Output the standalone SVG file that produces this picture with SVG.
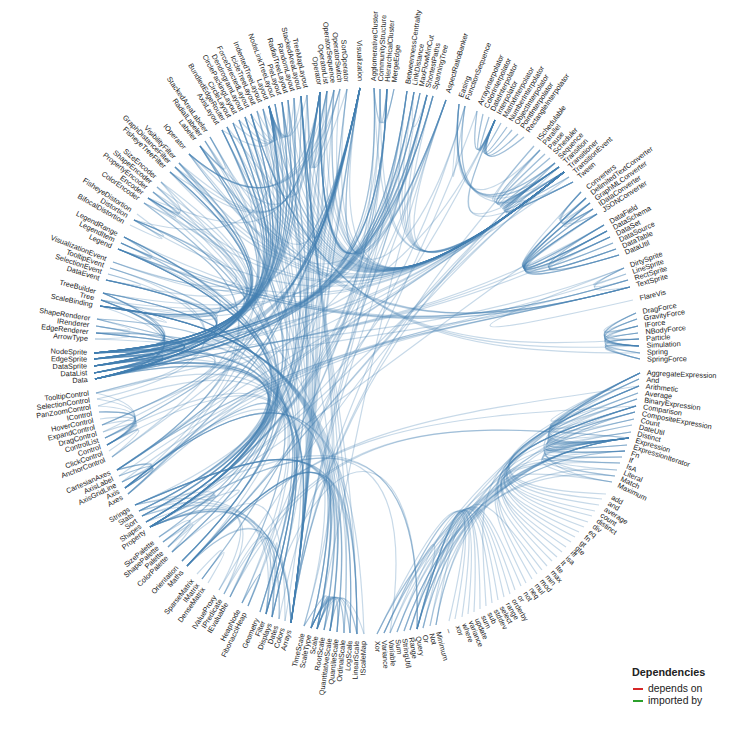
<svg xmlns="http://www.w3.org/2000/svg" width="730" height="730" viewBox="0 0 730 730">
<style>
text{font-family:"Liberation Sans",Arial,sans-serif;font-size:7.3px;fill:#222}
.e{text-anchor:end}
.l path{fill:none;stroke:#4682b4;stroke-opacity:.3;stroke-width:1.2}
</style>
<rect width="730" height="730" fill="#fff"/>
<g transform="translate(367,361)">
<g id="connectors" class="l">
<path d="M7-273C14-79 45-66 197-189"/><path d="M7-273C14-79-50-30-273 12"/><path d="M7-273C14-79-48 64-165 218"/><path d="M7-273Q13-204 27-272"/><path d="M7-273Q13-204 20-272"/><path d="M7-273C14-79-50-30-272 18"/>
<path d="M13-272Q13-204 20-272"/><path d="M13-272C14-79 45-66 197-189"/><path d="M13-272C14-79-50-30-273 12"/><path d="M13-272Q13-204 27-272"/><path d="M13-272C14-79-48 64-165 218"/>
<path d="M20-272C14-79-50-30-273-2"/><path d="M20-272C14-79-50-30-273-8"/><path d="M20-272C14-79-50-30-273 12"/><path d="M20-272C14-79-50-30-266-61"/><path d="M20-272C14-79-48 64-76 262"/><path d="M20-272Q13-204 27-272"/><path d="M20-272C14-79-48 64-225 155"/><path d="M20-272C14-79-50-30-47-269"/><path d="M20-272C14-79-48 64-217 166"/><path d="M20-272C14-79-50-30-272 18"/>
<path d="M40-270C14-79 45-66 197-189"/><path d="M40-270C14-79-50-30-273-8"/><path d="M40-270C14-79-50-30-273 12"/><path d="M40-270C14-79-48 64-76 262"/><path d="M40-270C14-79-50-30-272 18"/><path d="M40-270C14-79-48 64-217 166"/><path d="M40-270C14-79-50-30-47-269"/>
<path d="M47-269C14-79 45-66 197-189"/><path d="M47-269C14-79-50-30-273-8"/><path d="M47-269C14-79-50-30-273-2"/><path d="M47-269Q40-201 60-266"/><path d="M47-269C14-79-50-30-272 18"/><path d="M47-269C14-79-48 64-217 166"/><path d="M47-269C14-79-50-30-47-269"/>
<path d="M53-268C14-79 45-66 197-189"/><path d="M53-268C14-79-50-30-272 18"/><path d="M53-268C14-79-50-30-273-2"/><path d="M53-268C14-79-50-30-273-8"/><path d="M53-268C14-79-50-30-47-269"/>
<path d="M60-266C14-79-50-30-273-2"/><path d="M60-266C14-79-50-30-273-8"/><path d="M60-266C14-79 45-66 197-189"/><path d="M60-266C14-79-50-30-47-269"/><path d="M60-266C14-79-48 64-125 242"/><path d="M60-266C14-79-48 64-119 245"/><path d="M60-266C14-79-48 64-217 166"/><path d="M60-266C14-79-50-30-272 18"/>
<path d="M66-265C14-79 45-66 197-189"/><path d="M66-265C14-79-50-30-273-8"/><path d="M66-265C14-79-50-30-178-207"/><path d="M66-265C14-79-50-30-7-273"/><path d="M66-265C14-79-50-30-264-68"/><path d="M66-265C14-79-50-30-47-269"/>
<path d="M79-261C14-79 45-66 197-189"/><path d="M79-261C14-79-48 64-76 262"/><path d="M79-261C14-79-50-30-273 5"/><path d="M79-261C14-79-10 79-50 268"/><path d="M79-261C14-79-50-30-250 109"/><path d="M79-261C14-79-50-30-7-273"/><path d="M79-261C14-79-48 64-217 166"/><path d="M79-261C14-79-50-30-47-269"/>
<path d="M98-255C45-66-48 64-180 205"/><path d="M98-255Q77-113 192-194"/><path d="M98-255Q77-113 92-257"/><path d="M98-255Q77-113 188-198"/>
<path d="M110-250Q101-178 128-241"/><path d="M116-247Q101-178 128-241"/><path d="M122-244Q101-178 128-241"/><path d="M134-238Q101-178 128-241"/><path d="M140-234Q101-178 128-241"/><path d="M145-231Q101-178 128-241"/><path d="M151-227Q101-178 128-241"/><path d="M157-224Q101-178 128-241"/>
<path d="M128-241Q101-178 110-250"/><path d="M128-241Q101-178 116-247"/><path d="M128-241Q101-178 122-244"/><path d="M128-241Q101-178 134-238"/><path d="M128-241Q101-178 140-234"/><path d="M128-241Q101-178 145-231"/><path d="M128-241Q101-178 151-227"/><path d="M128-241Q101-178 157-224"/>
<path d="M110-250C45-66-48 64-76 262"/><path d="M128-241C45-66-48 64-217 166"/>
<path d="M173-211Q77-113 92-257"/><path d="M173-211Q77-113 192-194"/><path d="M173-211C45-66-48 64-76 262"/><path d="M178-207Q77-113 192-194"/><path d="M183-203Q77-113 167-215"/><path d="M188-198Q77-113 92-257"/><path d="M188-198C45-66-48 64-180 205"/><path d="M188-198Q77-113 192-194"/><path d="M188-198C45-66-48 64-76 262"/>
<path d="M192-194Q77-113 197-189"/><path d="M192-194Q77-113 202-184"/><path d="M192-194Q77-113 183-203"/><path d="M192-194Q77-113 178-207"/><path d="M192-194Q77-113 173-211"/><path d="M192-194Q77-113 92-257"/><path d="M192-194Q77-113 188-198"/><path d="M192-194Q77-113 167-215"/><path d="M192-194C45-66-48 64-180 205"/><path d="M192-194Q77-113 206-179"/>
<path d="M197-189C77-113 89-146 128-241"/><path d="M197-189C45-66-48 64-148 229"/><path d="M197-189Q77-113 92-257"/><path d="M197-189C45-66-48 64-217 166"/><path d="M197-189Q77-113 192-194"/><path d="M197-189Q77-113 206-179"/>
<path d="M202-184Q77-113 192-194"/><path d="M206-179Q77-113 197-189"/><path d="M206-179Q77-113 192-194"/><path d="M206-179C77-113 89-146 128-241"/><path d="M206-179Q77-113 92-257"/>
<path d="M214-169Q167-119 226-152"/><path d="M214-169Q167-119 223-158"/><path d="M214-169Q167-119 230-147"/><path d="M214-169Q167-119 219-163"/>
<path d="M219-163C143-92 119-66 243-124"/><path d="M219-163C143-92 119-66 252-106"/><path d="M219-163C143-92 119-66 249-112"/><path d="M219-163Q167-119 226-152"/><path d="M219-163C143-92 119-66 240-130"/><path d="M219-163C143-92 119-66 237-136"/>
<path d="M223-158C143-92 119-66 243-124"/><path d="M223-158C143-92 119-66 252-106"/><path d="M223-158C143-92 119-66 249-112"/><path d="M223-158C143-92 119-66 240-130"/><path d="M223-158C143-92 119-66 237-136"/><path d="M223-158Q167-119 226-152"/>
<path d="M226-152C143-92 119-66 243-124"/><path d="M226-152C143-92 119-66 240-130"/>
<path d="M230-147Q167-119 226-152"/><path d="M230-147C70-39-48 64-217 166"/><path d="M230-147C143-92 119-66 237-136"/><path d="M230-147C143-92 119-66 240-130"/><path d="M230-147C143-92 119-66 243-124"/><path d="M230-147C143-92 119-66 252-106"/><path d="M230-147C143-92 119-66 249-112"/>
<path d="M237-136Q119-66 252-106"/><path d="M240-130Q119-66 237-136"/><path d="M243-124Q119-66 249-112"/><path d="M246-118C119-66 143-92 226-152"/><path d="M246-118C119-66 143-92 214-169"/><path d="M246-118Q119-66 240-130"/><path d="M249-112Q119-66 240-130"/><path d="M252-106Q119-66 237-136"/><path d="M252-106Q119-66 240-130"/>
<path d="M259-87Q195-63 257-93"/><path d="M261-81Q195-63 257-93"/><path d="M263-74Q195-63 257-93"/><path d="M266-61C78-18 76-25 257-93"/>
<path d="M269-48Q204-19 272-15"/><path d="M269-48Q204-19 272-22"/><path d="M269-48Q204-19 271-35"/><path d="M270-42Q204-19 272-15"/><path d="M270-42Q204-19 272-22"/><path d="M270-42Q204-19 271-35"/><path d="M271-35Q204-19 272-15"/><path d="M271-28Q204-19 272-15"/><path d="M271-28Q204-19 272-22"/><path d="M271-28Q204-19 271-35"/>
<path d="M272-15Q204-19 269-48"/><path d="M272-15Q204-19 271-35"/><path d="M272-15Q204-19 273-2"/><path d="M272-15Q204-19 271-28"/><path d="M272-15Q204-19 272-22"/><path d="M272-15Q204-19 273-8"/><path d="M272-15Q204-19 270-42"/><path d="M273-8Q204-19 272-22"/><path d="M273-2Q204-19 272-15"/><path d="M273-2Q204-19 272-22"/><path d="M273-2Q204-19 273-8"/><path d="M273-2Q204-19 271-35"/>
<path d="M273 12Q96 97 262 77"/><path d="M272 18Q96 97 268 51"/><path d="M272 18Q96 97 262 77"/><path d="M272 25Q96 97 270 38"/><path d="M272 25Q96 97 262 77"/><path d="M272 25C56 57-48 64-180 205"/><path d="M271 32Q96 97 262 77"/><path d="M271 32Q96 97 273 12"/><path d="M270 38Q96 97 262 77"/><path d="M269 45Q96 97 270 38"/><path d="M269 45Q96 97 262 77"/><path d="M269 45C56 57-48 64-180 205"/>
<path d="M268 51Q96 97 262 77"/><path d="M268 51Q96 97 260 84"/><path d="M267 58Q96 97 262 77"/><path d="M267 58Q96 97 273 12"/><path d="M265 64Q96 97 258 90"/><path d="M264 71Q96 97 262 77"/><path d="M264 71Q96 97 273 12"/><path d="M262 77Q96 97 260 84"/><path d="M262 77C56 57-48 64-137 236"/><path d="M262 77C56 57-48 64-143 233"/><path d="M260 84Q96 97 262 77"/>
<path d="M258 90Q96 97 268 51"/><path d="M258 90Q96 97 262 77"/><path d="M258 90Q96 97 265 64"/><path d="M258 90Q96 97 37 270"/><path d="M255 96Q96 97 262 77"/><path d="M253 102Q96 97 262 77"/><path d="M253 102Q96 97 255 96"/><path d="M250 109Q96 97 262 77"/><path d="M248 115Q96 97 270 38"/><path d="M248 115Q96 97 262 77"/><path d="M248 115Q96 97 37 270"/><path d="M245 121Q96 97 262 77"/><path d="M245 121Q96 97 273 12"/>
<path d="M69 264Q96 97 262 77"/><path d="M69 264Q96 97 273 12"/><path d="M63 265Q96 97 262 77"/><path d="M56 267Q96 97 268 51"/><path d="M56 267Q96 97 262 77"/><path d="M50 268Q96 97 262 77"/><path d="M50 268Q96 97 250 109"/><path d="M50 268Q96 97 23 272"/><path d="M50 268Q96 97 273 12"/><path d="M50 268C56 57-48 64-101 253"/><path d="M50 268C56 57-48 64-217 166"/><path d="M50 268C56 57-48 64-225 155"/>
<path d="M43 269Q96 97 272 18"/><path d="M43 269Q96 97 269 45"/><path d="M43 269Q96 97 262 77"/><path d="M37 270Q96 97 258 90"/><path d="M30 271Q96 97 262 77"/><path d="M30 271Q96 97 273 12"/><path d="M23 272Q96 97 262 77"/><path d="M23 272C56 57-48 64-217 166"/><path d="M17 272Q96 97 262 77"/><path d="M17 272Q96 97 273 12"/><path d="M10 273Q96 97 268 51"/><path d="M10 273Q96 97 262 77"/>
<path d="M239 133C113 128 96 97 272 25"/><path d="M235 138C113 128 96 97 272 18"/><path d="M232 144C113 128 96 97 271 32"/><path d="M228 150C113 128 96 97 267 58"/><path d="M225 155C113 128 96 97 264 71"/><path d="M221 161C113 128 96 97 272 25"/><path d="M217 166C113 128 96 97 269 45"/><path d="M212 171C113 128 96 97 258 90"/><path d="M208 176C113 128 96 97 269 45"/><path d="M204 181C113 128 96 97 269 45"/><path d="M199 186C113 128 96 97 255 96"/>
<path d="M195 191C113 128 96 97 253 102"/><path d="M190 196C113 128 96 97 269 45"/><path d="M185 200C113 128 96 97 269 45"/><path d="M180 205C113 128 96 97 245 121"/><path d="M175 209C113 128 96 97 69 264"/><path d="M170 213C113 128 96 97 272 25"/><path d="M165 218C113 128 96 97 272 25"/><path d="M159 222C113 128 96 97 269 45"/><path d="M154 225C113 128 96 97 63 265"/><path d="M148 229C113 128 96 97 56 267"/><path d="M143 233C113 128 96 97 50 268"/>
<path d="M137 236C113 128 96 97 43 269"/><path d="M131 239C113 128 96 97 50 268"/><path d="M125 242C113 128 96 97 17 272"/><path d="M119 245C113 128 96 97 272 25"/><path d="M113 248C113 128 96 97 30 271"/><path d="M107 251C113 128 96 97 50 268"/><path d="M101 253C113 128 96 97 17 272"/><path d="M95 256C113 128 96 97 50 268"/><path d="M88 258C113 128 96 97 10 273"/><path d="M82 260C113 128 96 97 50 268"/>
<path d="M-3 273Q-25 203-50 268"/><path d="M-10 273Q-25 203-37 270"/><path d="M-10 273C-10 79-48 64-180 205"/><path d="M-10 273C-10 79-48 64-232 144"/><path d="M-10 273Q-25 203-56 267"/><path d="M-17 272Q-25 203-37 270"/><path d="M-17 272C-10 79-48 64-180 205"/><path d="M-17 272C-10 79-48 64-232 144"/><path d="M-17 272Q-25 203-56 267"/><path d="M-23 272Q-25 203-56 267"/><path d="M-23 272Q-25 203-50 268"/>
<path d="M-30 271C-10 79-48 64-180 205"/><path d="M-30 271C-10 79-48 64-232 144"/><path d="M-30 271Q-25 203-50 268"/><path d="M-30 271Q-25 203-56 267"/><path d="M-37 270C-10 79-48 64-180 205"/><path d="M-37 270C-10 79-48 64-232 144"/><path d="M-37 270Q-25 203-50 268"/><path d="M-37 270Q-25 203-56 267"/><path d="M-43 269Q-25 203-37 270"/><path d="M-43 269C-10 79-48 64-180 205"/><path d="M-43 269C-10 79-48 64-232 144"/><path d="M-43 269Q-25 203-56 267"/>
<path d="M-50 268Q-25 203-56 267"/><path d="M-50 268C-10 79-48 64-232 144"/><path d="M-56 267Q-25 203-50 268"/><path d="M-63 265C-10 79-48 64-88 258"/><path d="M-63 265Q-25 203-50 268"/><path d="M-63 265Q-25 203-56 267"/>
<path d="M-76 262Q-82 109-217 166"/><path d="M-88 258Q-82 109-180 205"/><path d="M-95 256Q-82 109-137 236"/><path d="M-95 256Q-82 109-217 166"/><path d="M-95 256Q-82 109-101 253"/><path d="M-101 253Q-82 109-143 233"/><path d="M-101 253Q-82 109-217 166"/><path d="M-119 245Q-92 183-125 242"/><path d="M-125 242Q-92 183-119 245"/><path d="M-159 222Q-124 163-165 218"/><path d="M-170 213Q-124 163-165 218"/><path d="M-180 205Q-82 109-76 262"/>
<path d="M-195 191Q-151 138-199 186"/><path d="M-195 191C-117 124-82 109-82 260"/><path d="M-204 181Q-151 138-199 186"/><path d="M-204 181C-117 124-82 109-221 161"/><path d="M-208 176Q-151 138-199 186"/><path d="M-217 166Q-82 109-143 233"/><path d="M-217 166Q-82 109-148 229"/><path d="M-225 155Q-82 109-76 262"/><path d="M-225 155Q-82 109-217 166"/><path d="M-228 150Q-82 109-76 262"/><path d="M-228 150Q-82 109-217 166"/><path d="M-232 144Q-82 109-88 258"/><path d="M-232 144Q-82 109-217 166"/>
<path d="M-239 133C-50-30 45-66 197-189"/><path d="M-239 133C-121 28-58-35-7-273"/>
<path d="M-242 127C-50-30 45-66 197-189"/><path d="M-242 127C-50-30-10 79-10 273"/><path d="M-242 127C-50-30-48 64-76 262"/><path d="M-242 127C-50-30-10 79-56 267"/><path d="M-242 127C-50-30-48 64-232 144"/><path d="M-242 127C-50-30 76-25 263-74"/><path d="M-242 127C-50-30-10 79-50 268"/><path d="M-242 127C-50-30-48 64-228 150"/><path d="M-242 127C-50-30-10 79-3 273"/><path d="M-242 127Q-184 91-248 115"/><path d="M-242 127Q-184 91-245 121"/>
<path d="M-245 121Q-184 91-242 127"/><path d="M-245 121C-50-30 76-25 259-87"/><path d="M-248 115Q-184 91-242 127"/><path d="M-248 115C-50-30 76-25 263-74"/>
<path d="M-250 109C-50-30 45-66 197-189"/><path d="M-250 109C-50-30 76-25 261-81"/><path d="M-250 109Q-184 91-242 127"/><path d="M-250 109C-50-30 76-25 263-74"/><path d="M-250 109Q-184 91-239 133"/><path d="M-250 109C-121 28-58-35-7-273"/><path d="M-250 109Q-184 91-245 121"/>
<path d="M-255 96Q-199 49-260 84"/><path d="M-255 96C-129 7-58-35-7-273"/><path d="M-255 96C-129 7-65-76-98-255"/><path d="M-258 90Q-199 49-260 84"/><path d="M-260 84Q-199 49-268 51"/><path d="M-260 84C-50-30-48 64-101 253"/>
<path d="M-262 77Q-199 49-268 51"/><path d="M-262 77C-50-30-48 64-76 262"/><path d="M-262 77C-129 7-58-35-7-273"/><path d="M-262 77Q-199 49-260 84"/><path d="M-264 71Q-199 49-260 84"/><path d="M-264 71C-129 7-97-24-273 5"/>
<path d="M-265 64Q-199 49-260 84"/><path d="M-265 64C-129 7-97-24-273-8"/><path d="M-265 64C-50-30 45-66 197-189"/><path d="M-265 64C-129 7-58-35-7-273"/><path d="M-267 58Q-199 49-260 84"/><path d="M-268 51Q-199 49-260 84"/><path d="M-269 45Q-199 49-260 84"/><path d="M-269 45C-50-30-48 64-95 256"/>
<path d="M-270 38Q-199 49-260 84"/><path d="M-270 38C-129 7-126-52-259-87"/><path d="M-271 32Q-199 49-260 84"/><path d="M-271 32C-129 7-126-52-257-93"/><path d="M-271 32C-50-30 76-25 263-74"/><path d="M-271 32C-50-30-48 64-95 256"/>
<path d="M-272 18Q-136-13-273 12"/><path d="M-272 18Q-136-13-273 5"/><path d="M-272 18Q-136-13-273-2"/><path d="M-272 18Q-136-13-273-8"/><path d="M-272 18C-50-30-48 64-76 262"/><path d="M-272 18C-50-30 70-39 243-124"/><path d="M-272 18Q-136-13-264-68"/><path d="M-272 18C-97-24-126-52-261-81"/><path d="M-272 18C-50-30 70-39 240-130"/><path d="M-272 18Q-136-13-266-61"/><path d="M-272 18C-50-30 70-39 237-136"/><path d="M-272 18C-50-30-48 64-225 155"/><path d="M-272 18C-50-30-48 64-217 166"/>
<path d="M-273 12C-50-30 45-66 128-241"/><path d="M-273 12C-50-30-48 64-76 262"/><path d="M-273 12C-50-30-48 64-101 253"/><path d="M-273 12C-50-30-48 64-225 155"/><path d="M-273 12C-97-24-126-52-261-81"/><path d="M-273 12Q-136-13-273 5"/><path d="M-273 12C-50-30-48 64-228 150"/><path d="M-273 12C-50-30-48 64-217 166"/><path d="M-273 12C-50-30 45-66 197-189"/>
<path d="M-273 5C-50-30-48 64-82 260"/><path d="M-273 5Q-136-13-272 18"/><path d="M-273 5C-50-30 76-25 257-93"/><path d="M-273 5C-136-13-170-18-270-42"/><path d="M-273 5C-136-13-170-18-271-35"/>
<path d="M-273-2C-136-13-170-18-271-28"/><path d="M-273-2Q-136-13-273 5"/><path d="M-273-2Q-136-13-273-8"/><path d="M-273-2C-136-13-170-18-272-22"/><path d="M-273-2Q-136-13-272 18"/>
<path d="M-273-8C-50-30 45-66 197-189"/><path d="M-273-8C-50-30-48 64-76 262"/><path d="M-273-8Q-136-13-273 5"/><path d="M-273-8Q-136-13-273-2"/><path d="M-273-8Q-136-13-266-61"/><path d="M-273-8C-50-30-48 64-225 155"/><path d="M-273-8C-50-30-48 64-101 253"/><path d="M-273-8C-50-30-48 64-137 236"/><path d="M-273-8Q-136-13-272 18"/>
<path d="M-271-28C-170-18-136-13-273-2"/><path d="M-271-28C-170-18-136-13-273 5"/><path d="M-271-28Q-203-24-271-35"/><path d="M-271-28C-170-18-136-13-273-8"/><path d="M-271-28C-50-30-48 64-221 161"/><path d="M-271-28C-50-30-48 64-107 251"/><path d="M-271-28Q-203-24-272-22"/>
<path d="M-271-35C-170-18-136-13-273 5"/><path d="M-270-42C-170-18-136-13-273 5"/><path d="M-270-42Q-203-24-271-35"/><path d="M-270-42C-50-30-48 64-221 161"/><path d="M-270-42C-50-30-48 64-107 251"/>
<path d="M-267-55C-50-30-10 79-63 265"/><path d="M-267-55C-50-30-10 79-56 267"/><path d="M-267-55C-50-30-10 79-10 273"/><path d="M-267-55C-50-30-10 79-17 272"/><path d="M-267-55C-50-30-10 79-23 272"/><path d="M-267-55C-50-30-10 79-43 269"/><path d="M-267-55C-50-30-10 79-50 268"/><path d="M-267-55C-50-30-10 79-30 271"/><path d="M-267-55C-50-30-48 64-228 150"/><path d="M-267-55C-50-30-10 79-37 270"/><path d="M-267-55C-97-24-126-52-261-81"/><path d="M-267-55Q-136-13-272 18"/>
<path d="M-266-61Q-136-13-273-2"/><path d="M-266-61Q-136-13-273-8"/><path d="M-266-61Q-136-13-273 12"/><path d="M-266-61Q-136-13-272 18"/>
<path d="M-264-68C-50-30-48 64-137 236"/><path d="M-264-68Q-136-13-273-8"/><path d="M-264-68Q-136-13-266-61"/><path d="M-264-68Q-136-13-273-2"/><path d="M-264-68Q-136-13-272 18"/><path d="M-264-68C-50-30-48 64-125 242"/><path d="M-264-68C-50-30-48 64-119 245"/><path d="M-264-68C-50-30-48 64-217 166"/>
<path d="M-261-81C-126-52-97-24-273-2"/><path d="M-261-81C-126-52-97-24-273-8"/><path d="M-261-81C-126-52-97-24-273 12"/><path d="M-261-81C-126-52-97-24-273 5"/><path d="M-259-87Q-193-68-261-81"/><path d="M-257-93C-126-52-97-24-273-2"/><path d="M-257-93C-126-52-97-24-273-8"/><path d="M-254-99C-50-30 45-66 197-189"/>
<path d="M-249-112C-50-30 45-66 197-189"/><path d="M-249-112C-122-62-97-24-267-55"/><path d="M-249-112C-50-30 76-25 263-74"/><path d="M-249-112Q-185-89-246-118"/><path d="M-249-112Q-185-89-243-124"/><path d="M-249-112C-50-30-48 64-95 256"/><path d="M-249-112C-50-30 76-25 261-81"/><path d="M-249-112C-50-30-48 64-185 200"/><path d="M-249-112C-50-30-48 64-195 191"/><path d="M-249-112C-50-30-48 64-204 181"/><path d="M-249-112C-50-30-48 64-208 176"/><path d="M-249-112C-50-30-48 64-221 161"/>
<path d="M-246-118C-50-30 76-25 263-74"/><path d="M-246-118C-50-30 76-25 261-81"/><path d="M-246-118C-50-30-48 64-221 161"/><path d="M-246-118C-50-30-48 64-95 256"/>
<path d="M-243-124C-50-30-48 64-195 191"/><path d="M-243-124C-50-30 76-25 261-81"/><path d="M-243-124C-122-62-97-24-267-55"/><path d="M-243-124C-50-30-48 64-228 150"/><path d="M-243-124C-50-30-10 79-50 268"/><path d="M-243-124Q-185-89-246-118"/><path d="M-243-124C-50-30-48 64-185 200"/>
<path d="M-237-136Q-175-106-233-141"/><path d="M-230-147Q-175-106-233-141"/><path d="M-233-141C-50-30 45-66 197-189"/><path d="M-233-141C-65-76-97-24-273 5"/><path d="M-233-141C-65-76-126-52-254-99"/><path d="M-233-141C-65-76-121 28-242 127"/><path d="M-233-141C-65-76-121 28-250 109"/><path d="M-233-141C-123-111-75-153-98-255"/><path d="M-233-141C-65-76-97-24-272 18"/>
<path d="M-223-158C-50-30-48 64-195 191"/><path d="M-223-158C-50-30-48 64-199 186"/><path d="M-223-158Q-161-127-219-163"/><path d="M-223-158C-65-76-97-24-267-55"/>
<path d="M-219-163C-50-30 45-66 197-189"/><path d="M-219-163C-65-76-97-24-267-55"/><path d="M-219-163C-50-30-48 64-217 166"/><path d="M-219-163C-116-122-71-116-47-269"/><path d="M-219-163C-65-76-97-24-272 18"/>
<path d="M-214-169Q-161-127-219-163"/><path d="M-214-169C-65-76-97-24-272 18"/><path d="M-214-169C-50-30 45-66 197-189"/><path d="M-214-169C-50-30-48 64-101 253"/>
<path d="M-210-174Q-161-127-219-163"/><path d="M-210-174C-50-30-48 64-204 181"/><path d="M-210-174C-65-76-97-24-267-55"/><path d="M-206-179Q-161-127-219-163"/><path d="M-206-179C-50-30-48 64-208 176"/><path d="M-206-179C-65-76-97-24-267-55"/>
<path d="M-197-189C-50-30 45-66 197-189"/><path d="M-197-189C-65-76-97-24-273-8"/><path d="M-197-189C-65-76-97-24-273-2"/><path d="M-197-189C-65-76-97-24-272 18"/><path d="M-197-189C-108-131-71-116-47-269"/><path d="M-197-189C-65-76-97-24-273 5"/>
<path d="M-192-194C-50-30 45-66 197-189"/><path d="M-192-194C-65-76-97-24-273-8"/><path d="M-192-194C-108-131-71-116-47-269"/><path d="M-192-194C-65-76-97-24-273 5"/><path d="M-192-194C-65-76-97-24-273-2"/><path d="M-192-194C-65-76-97-24-272 18"/>
<path d="M-188-198C-108-131-71-116-47-269"/><path d="M-188-198C-50-30 45-66 197-189"/><path d="M-188-198C-65-76-97-24-273 5"/><path d="M-188-198C-50-30-48 64-101 253"/><path d="M-188-198C-65-76-97-24-272 18"/>
<path d="M-178-207C-50-30 45-66 197-189"/><path d="M-178-207C-71-116-58-35-7-273"/>
<path d="M-167-215C-50-30 76-25 263-74"/><path d="M-167-215C-50-30 45-66 197-189"/><path d="M-167-215C-65-76-97-24-273 5"/><path d="M-167-215C-50-30-48 64-101 253"/><path d="M-167-215C-50-30-48 64-217 166"/><path d="M-167-215C-50-30-48 64-221 161"/><path d="M-167-215C-96-141-71-116-47-269"/><path d="M-167-215C-65-76-97-24-272 18"/>
<path d="M-162-220Q-122-165-167-215"/><path d="M-162-220C-65-76-97-24-273 5"/><path d="M-162-220C-50-30 76-25 263-74"/><path d="M-162-220C-50-30-48 64-221 161"/>
<path d="M-157-224Q-122-165-167-215"/><path d="M-157-224C-65-76-97-24-273 5"/><path d="M-157-224C-50-30 76-25 263-74"/><path d="M-157-224C-50-30-48 64-76 262"/>
<path d="M-145-231C-50-30 45-66 197-189"/><path d="M-145-231C-65-76-97-24-273 5"/><path d="M-145-231C-65-76-121 28-250 109"/><path d="M-145-231Q-78-189-98-255"/><path d="M-145-231C-50-30-10 79-56 267"/><path d="M-145-231C-50-30-48 64-217 166"/><path d="M-145-231C-65-76-97-24-272 18"/>
<path d="M-140-234C-50-30 45-66 197-189"/><path d="M-140-234C-65-76-97-24-273 5"/><path d="M-140-234C-50-30-48 64-76 262"/><path d="M-140-234C-50-30-48 64-221 161"/><path d="M-140-234C-75-153-71-116-47-269"/><path d="M-140-234C-65-76-97-24-273-2"/><path d="M-140-234C-65-76-97-24-273-8"/>
<path d="M-134-238C-65-76-97-24-273-8"/><path d="M-134-238C-65-76-97-24-267-55"/><path d="M-134-238C-65-76-97-24-266-61"/><path d="M-134-238Q-78-189-98-255"/><path d="M-134-238C-65-76-97-24-272 18"/><path d="M-134-238C-50-30 45-66 197-189"/>
<path d="M-128-241C-65-76-97-24-273-8"/><path d="M-128-241C-50-30-48 64-221 161"/><path d="M-128-241Q-78-189-98-255"/><path d="M-128-241C-50-30 45-66 197-189"/><path d="M-128-241C-65-76-97-24-272 18"/><path d="M-128-241C-65-76-97-24-273 12"/>
<path d="M-122-244C-65-76-97-24-273-8"/><path d="M-122-244C-65-76-97-24-273 12"/><path d="M-122-244Q-78-189-98-255"/><path d="M-122-244C-65-76-97-24-273-2"/><path d="M-122-244C-50-30-48 64-76 262"/><path d="M-122-244C-50-30-48 64-185 200"/><path d="M-122-244C-50-30 45-66 197-189"/>
<path d="M-116-247C-50-30 80-7 272-15"/><path d="M-116-247C-50-30 80-7 272-22"/><path d="M-116-247C-50-30 80-7 273-8"/><path d="M-116-247C-65-76-97-24-273-8"/><path d="M-116-247C-65-76-97-24-273-2"/><path d="M-116-247C-65-76-97-24-273 5"/><path d="M-116-247Q-78-189-98-255"/><path d="M-116-247C-50-30 45-66 197-189"/><path d="M-116-247C-65-76-97-24-272 18"/>
<path d="M-110-250C-65-76-97-24-273-8"/><path d="M-110-250Q-78-189-98-255"/><path d="M-110-250C-50-30-48 64-185 200"/><path d="M-110-250C-50-30 45-66 197-189"/>
<path d="M-104-252C-65-76-97-24-273-8"/><path d="M-104-252Q-78-189-98-255"/><path d="M-104-252C-50-30-48 64-76 262"/><path d="M-104-252C-65-76-97-24-273-2"/><path d="M-104-252C-50-30 45-66 197-189"/>
<path d="M-98-255C-50-30 45-66 197-189"/><path d="M-98-255C-65-76-97-24-273-8"/><path d="M-98-255C-65-76-97-24-273 12"/><path d="M-98-255C-65-76-97-24-273 5"/><path d="M-98-255C-65-76-97-24-273-2"/><path d="M-98-255C-65-76-58-35-7-273"/><path d="M-98-255C-65-76-121 28-250 109"/><path d="M-98-255C-65-76-121 28-239 133"/><path d="M-98-255C-50-30 45-66 202-184"/><path d="M-98-255C-75-153-71-116-47-269"/>
<path d="M-92-257C-65-76-97-24-273-8"/><path d="M-92-257Q-78-189-98-255"/><path d="M-92-257C-50-30-48 64-185 200"/><path d="M-92-257C-50-30-48 64-76 262"/><path d="M-92-257C-50-30 45-66 197-189"/><path d="M-92-257C-65-76-97-24-273-2"/>
<path d="M-85-259C-65-76-97-24-273 12"/><path d="M-85-259C-65-76-97-24-273 5"/><path d="M-85-259C-50-30-48 64-221 161"/><path d="M-85-259C-50-30-48 64-107 251"/><path d="M-85-259Q-78-189-98-255"/><path d="M-85-259C-50-30 45-66 197-189"/><path d="M-85-259C-65-76-97-24-272 18"/><path d="M-85-259C-50-30-48 64-217 166"/>
<path d="M-79-261C-65-76-97-24-273-8"/><path d="M-79-261C-50-30-48 64-76 262"/><path d="M-79-261Q-78-189-98-255"/><path d="M-79-261C-50-30-48 64-107 251"/><path d="M-79-261C-50-30 45-66 197-189"/><path d="M-79-261C-65-76-97-24-273-2"/>
<path d="M-73-263C-65-76-97-24-273-8"/><path d="M-73-263Q-78-189-98-255"/><path d="M-73-263C-65-76-97-24-273 5"/><path d="M-73-263C-65-76-97-24-272 18"/><path d="M-73-263C-50-30 45-66 197-189"/>
<path d="M-66-265C-50-30-10 79-56 267"/><path d="M-66-265C-50-30-10 79-10 273"/><path d="M-66-265C-50-30-10 79-50 268"/><path d="M-66-265C-50-30-48 64-76 262"/><path d="M-66-265C-50-30-48 64-180 205"/><path d="M-66-265C-50-30-48 64-185 200"/><path d="M-66-265C-50-30-10 79-37 270"/><path d="M-66-265C-50-30-10 79-23 272"/><path d="M-66-265Q-78-189-98-255"/><path d="M-66-265C-50-30 45-66 197-189"/><path d="M-66-265C-50-30-48 64-228 150"/><path d="M-66-265C-65-76-97-24-273-8"/><path d="M-66-265C-65-76-97-24-272 18"/>
<path d="M-60-266C-65-76-97-24-273-8"/><path d="M-60-266Q-78-189-98-255"/><path d="M-60-266C-50-30 45-66 197-189"/><path d="M-60-266C-50-30-48 64-217 166"/><path d="M-60-266C-50-30-48 64-76 262"/>
<path d="M-47-269C-50-30 45-66 197-189"/><path d="M-47-269C-71-116-58-35-7-273"/><path d="M-47-269Q-71-116-178-207"/><path d="M-47-269C-50-30-48 64-76 262"/><path d="M-47-269C-50-30-48 64-217 166"/>
<path d="M-40-270C-50-30-48 64-76 262"/><path d="M-40-270C-50-30 45-66 197-189"/><path d="M-40-270C-71-116-58-35-7-273"/><path d="M-40-270Q-71-116-178-207"/><path d="M-40-270Q-71-116-47-269"/><path d="M-40-270C-50-30-48 64-217 166"/>
<path d="M-33-271C-50-30-48 64-76 262"/><path d="M-33-271Q-71-116-178-207"/><path d="M-33-271C-50-30 45-66 197-189"/><path d="M-33-271C-50-30 45-66 98-255"/><path d="M-33-271Q-71-116-47-269"/><path d="M-33-271C-71-116-58-35-7-273"/>
<path d="M-27-272Q-71-116-47-269"/><path d="M-27-272Q-71-116-40-270"/><path d="M-27-272Q-71-116-178-207"/><path d="M-27-272C-50-30 45-66 197-189"/>
<path d="M-20-272Q-71-116-47-269"/><path d="M-20-272C-50-30-48 64-76 262"/><path d="M-20-272C-50-30-48 64-225 155"/><path d="M-20-272C-50-30 45-66 197-189"/>
<path d="M-7-273C-50-30 45-66 197-189"/><path d="M-7-273C-58-35-121 28-239 133"/><path d="M-7-273C-58-35-121 28-250 109"/><path d="M-7-273C-58-35-129 7-262 77"/><path d="M-7-273C-58-35-97-24-272 18"/><path d="M-7-273C-58-35-97-24-273 5"/><path d="M-7-273C-58-35-97-24-273-2"/><path d="M-7-273C-58-35-97-24-273-8"/><path d="M-7-273C-58-35-126-52-261-81"/><path d="M-7-273C-58-35-126-52-254-99"/><path d="M-7-273C-58-35-97-24-266-61"/><path d="M-7-273C-58-35-65-76-40-270"/><path d="M-7-273C-58-35-65-76-178-207"/><path d="M-7-273C-50-30-48 64-95 256"/><path d="M-7-273C-50-30-48 64-217 166"/><path d="M-7-273C-58-35-97-24-273 12"/><path d="M-7-273C-50-30-48 64-76 262"/>
</g>
<g id="nodes">
<g id="n-AgglomerativeCluster" transform="rotate(-88.6)translate(280,2.26)"><text>AgglomerativeCluster</text></g>
<g id="n-CommunityStructure" transform="rotate(-87.2)translate(280,2.26)"><text>CommunityStructure</text></g>
<g id="n-HierarchicalCluster" transform="rotate(-85.8)translate(280,2.26)"><text>HierarchicalCluster</text></g>
<g id="n-MergeEdge" transform="rotate(-84.4)translate(280,2.26)"><text>MergeEdge</text></g>
<g id="n-BetweennessCentrality" transform="rotate(-81.6)translate(280,2.26)"><text>BetweennessCentrality</text></g>
<g id="n-LinkDistance" transform="rotate(-80.2)translate(280,2.26)"><text>LinkDistance</text></g>
<g id="n-MaxFlowMinCut" transform="rotate(-78.79)translate(280,2.26)"><text>MaxFlowMinCut</text></g>
<g id="n-ShortestPaths" transform="rotate(-77.39)translate(280,2.26)"><text>ShortestPaths</text></g>
<g id="n-SpanningTree" transform="rotate(-75.99)translate(280,2.26)"><text>SpanningTree</text></g>
<g id="n-AspectRatioBanker" transform="rotate(-73.19)translate(280,2.26)"><text>AspectRatioBanker</text></g>
<g id="n-Easing" transform="rotate(-70.39)translate(280,2.26)"><text>Easing</text></g>
<g id="n-FunctionSequence" transform="rotate(-68.99)translate(280,2.26)"><text>FunctionSequence</text></g>
<g id="n-ArrayInterpolator" transform="rotate(-66.19)translate(280,2.26)"><text>ArrayInterpolator</text></g>
<g id="n-ColorInterpolator" transform="rotate(-64.79)translate(280,2.26)"><text>ColorInterpolator</text></g>
<g id="n-DateInterpolator" transform="rotate(-63.39)translate(280,2.26)"><text>DateInterpolator</text></g>
<g id="n-Interpolator" transform="rotate(-61.98)translate(280,2.26)"><text>Interpolator</text></g>
<g id="n-MatrixInterpolator" transform="rotate(-60.58)translate(280,2.26)"><text>MatrixInterpolator</text></g>
<g id="n-NumberInterpolator" transform="rotate(-59.18)translate(280,2.26)"><text>NumberInterpolator</text></g>
<g id="n-ObjectInterpolator" transform="rotate(-57.78)translate(280,2.26)"><text>ObjectInterpolator</text></g>
<g id="n-PointInterpolator" transform="rotate(-56.38)translate(280,2.26)"><text>PointInterpolator</text></g>
<g id="n-RectangleInterpolator" transform="rotate(-54.98)translate(280,2.26)"><text>RectangleInterpolator</text></g>
<g id="n-ISchedulable" transform="rotate(-52.18)translate(280,2.26)"><text>ISchedulable</text></g>
<g id="n-Parallel" transform="rotate(-50.78)translate(280,2.26)"><text>Parallel</text></g>
<g id="n-Pause" transform="rotate(-49.38)translate(280,2.26)"><text>Pause</text></g>
<g id="n-Scheduler" transform="rotate(-47.98)translate(280,2.26)"><text>Scheduler</text></g>
<g id="n-Sequence" transform="rotate(-46.58)translate(280,2.26)"><text>Sequence</text></g>
<g id="n-Transition" transform="rotate(-45.18)translate(280,2.26)"><text>Transition</text></g>
<g id="n-Transitioner" transform="rotate(-43.77)translate(280,2.26)"><text>Transitioner</text></g>
<g id="n-TransitionEvent" transform="rotate(-42.37)translate(280,2.26)"><text>TransitionEvent</text></g>
<g id="n-Tween" transform="rotate(-40.97)translate(280,2.26)"><text>Tween</text></g>
<g id="n-Converters" transform="rotate(-38.17)translate(280,2.26)"><text>Converters</text></g>
<g id="n-DelimitedTextConverter" transform="rotate(-36.77)translate(280,2.26)"><text>DelimitedTextConverter</text></g>
<g id="n-GraphMLConverter" transform="rotate(-35.37)translate(280,2.26)"><text>GraphMLConverter</text></g>
<g id="n-IDataConverter" transform="rotate(-33.97)translate(280,2.26)"><text>IDataConverter</text></g>
<g id="n-JSONConverter" transform="rotate(-32.57)translate(280,2.26)"><text>JSONConverter</text></g>
<g id="n-DataField" transform="rotate(-29.77)translate(280,2.26)"><text>DataField</text></g>
<g id="n-DataSchema" transform="rotate(-28.37)translate(280,2.26)"><text>DataSchema</text></g>
<g id="n-DataSet" transform="rotate(-26.97)translate(280,2.26)"><text>DataSet</text></g>
<g id="n-DataSource" transform="rotate(-25.56)translate(280,2.26)"><text>DataSource</text></g>
<g id="n-DataTable" transform="rotate(-24.16)translate(280,2.26)"><text>DataTable</text></g>
<g id="n-DataUtil" transform="rotate(-22.76)translate(280,2.26)"><text>DataUtil</text></g>
<g id="n-DirtySprite" transform="rotate(-19.96)translate(280,2.26)"><text>DirtySprite</text></g>
<g id="n-LineSprite" transform="rotate(-18.56)translate(280,2.26)"><text>LineSprite</text></g>
<g id="n-RectSprite" transform="rotate(-17.16)translate(280,2.26)"><text>RectSprite</text></g>
<g id="n-TextSprite" transform="rotate(-15.76)translate(280,2.26)"><text>TextSprite</text></g>
<g id="n-FlareVis" transform="rotate(-12.96)translate(280,2.26)"><text>FlareVis</text></g>
<g id="n-DragForce" transform="rotate(-10.16)translate(280,2.26)"><text>DragForce</text></g>
<g id="n-GravityForce" transform="rotate(-8.76)translate(280,2.26)"><text>GravityForce</text></g>
<g id="n-IForce" transform="rotate(-7.35)translate(280,2.26)"><text>IForce</text></g>
<g id="n-NBodyForce" transform="rotate(-5.95)translate(280,2.26)"><text>NBodyForce</text></g>
<g id="n-Particle" transform="rotate(-4.55)translate(280,2.26)"><text>Particle</text></g>
<g id="n-Simulation" transform="rotate(-3.15)translate(280,2.26)"><text>Simulation</text></g>
<g id="n-Spring" transform="rotate(-1.75)translate(280,2.26)"><text>Spring</text></g>
<g id="n-SpringForce" transform="rotate(-0.35)translate(280,2.26)"><text>SpringForce</text></g>
<g id="n-AggregateExpression" transform="rotate(2.45)translate(280,2.26)"><text>AggregateExpression</text></g>
<g id="n-And" transform="rotate(3.85)translate(280,2.26)"><text>And</text></g>
<g id="n-Arithmetic" transform="rotate(5.25)translate(280,2.26)"><text>Arithmetic</text></g>
<g id="n-Average" transform="rotate(6.65)translate(280,2.26)"><text>Average</text></g>
<g id="n-BinaryExpression" transform="rotate(8.05)translate(280,2.26)"><text>BinaryExpression</text></g>
<g id="n-Comparison" transform="rotate(9.46)translate(280,2.26)"><text>Comparison</text></g>
<g id="n-CompositeExpression" transform="rotate(10.86)translate(280,2.26)"><text>CompositeExpression</text></g>
<g id="n-Count" transform="rotate(12.26)translate(280,2.26)"><text>Count</text></g>
<g id="n-DateUtil" transform="rotate(13.66)translate(280,2.26)"><text>DateUtil</text></g>
<g id="n-Distinct" transform="rotate(15.06)translate(280,2.26)"><text>Distinct</text></g>
<g id="n-Expression" transform="rotate(16.46)translate(280,2.26)"><text>Expression</text></g>
<g id="n-ExpressionIterator" transform="rotate(17.86)translate(280,2.26)"><text>ExpressionIterator</text></g>
<g id="n-Fn" transform="rotate(19.26)translate(280,2.26)"><text>Fn</text></g>
<g id="n-If" transform="rotate(20.66)translate(280,2.26)"><text>If</text></g>
<g id="n-IsA" transform="rotate(22.06)translate(280,2.26)"><text>IsA</text></g>
<g id="n-Literal" transform="rotate(23.46)translate(280,2.26)"><text>Literal</text></g>
<g id="n-Match" transform="rotate(24.86)translate(280,2.26)"><text>Match</text></g>
<g id="n-Maximum" transform="rotate(26.27)translate(280,2.26)"><text>Maximum</text></g>
<g id="n-add" transform="rotate(29.07)translate(280,2.26)"><text>add</text></g>
<g id="n-and" transform="rotate(30.47)translate(280,2.26)"><text>and</text></g>
<g id="n-average" transform="rotate(31.87)translate(280,2.26)"><text>average</text></g>
<g id="n-count" transform="rotate(33.27)translate(280,2.26)"><text>count</text></g>
<g id="n-distinct" transform="rotate(34.67)translate(280,2.26)"><text>distinct</text></g>
<g id="n-div" transform="rotate(36.07)translate(280,2.26)"><text>div</text></g>
<g id="n-eq" transform="rotate(37.47)translate(280,2.26)"><text>eq</text></g>
<g id="n-fn" transform="rotate(38.87)translate(280,2.26)"><text>fn</text></g>
<g id="n-gt" transform="rotate(40.27)translate(280,2.26)"><text>gt</text></g>
<g id="n-gte" transform="rotate(41.67)translate(280,2.26)"><text>gte</text></g>
<g id="n-iff" transform="rotate(43.07)translate(280,2.26)"><text>iff</text></g>
<g id="n-isa" transform="rotate(44.48)translate(280,2.26)"><text>isa</text></g>
<g id="n-lt" transform="rotate(45.88)translate(280,2.26)"><text>lt</text></g>
<g id="n-lte" transform="rotate(47.28)translate(280,2.26)"><text>lte</text></g>
<g id="n-max" transform="rotate(48.68)translate(280,2.26)"><text>max</text></g>
<g id="n-min" transform="rotate(50.08)translate(280,2.26)"><text>min</text></g>
<g id="n-mod" transform="rotate(51.48)translate(280,2.26)"><text>mod</text></g>
<g id="n-mul" transform="rotate(52.88)translate(280,2.26)"><text>mul</text></g>
<g id="n-neq" transform="rotate(54.28)translate(280,2.26)"><text>neq</text></g>
<g id="n-not" transform="rotate(55.68)translate(280,2.26)"><text>not</text></g>
<g id="n-or" transform="rotate(57.08)translate(280,2.26)"><text>or</text></g>
<g id="n-orderby" transform="rotate(58.48)translate(280,2.26)"><text>orderby</text></g>
<g id="n-range" transform="rotate(59.88)translate(280,2.26)"><text>range</text></g>
<g id="n-select" transform="rotate(61.28)translate(280,2.26)"><text>select</text></g>
<g id="n-stddev" transform="rotate(62.69)translate(280,2.26)"><text>stddev</text></g>
<g id="n-sub" transform="rotate(64.09)translate(280,2.26)"><text>sub</text></g>
<g id="n-sum" transform="rotate(65.49)translate(280,2.26)"><text>sum</text></g>
<g id="n-update" transform="rotate(66.89)translate(280,2.26)"><text>update</text></g>
<g id="n-variance" transform="rotate(68.29)translate(280,2.26)"><text>variance</text></g>
<g id="n-where" transform="rotate(69.69)translate(280,2.26)"><text>where</text></g>
<g id="n-xor" transform="rotate(71.09)translate(280,2.26)"><text>xor</text></g>
<g id="n-_" transform="rotate(72.49)translate(280,2.26)"><text>_</text></g>
<g id="n-Minimum" transform="rotate(75.29)translate(280,2.26)"><text>Minimum</text></g>
<g id="n-Not" transform="rotate(76.69)translate(280,2.26)"><text>Not</text></g>
<g id="n-Or" transform="rotate(78.09)translate(280,2.26)"><text>Or</text></g>
<g id="n-Query" transform="rotate(79.49)translate(280,2.26)"><text>Query</text></g>
<g id="n-Range" transform="rotate(80.9)translate(280,2.26)"><text>Range</text></g>
<g id="n-StringUtil" transform="rotate(82.3)translate(280,2.26)"><text>StringUtil</text></g>
<g id="n-Sum" transform="rotate(83.7)translate(280,2.26)"><text>Sum</text></g>
<g id="n-Variable" transform="rotate(85.1)translate(280,2.26)"><text>Variable</text></g>
<g id="n-Variance" transform="rotate(86.5)translate(280,2.26)"><text>Variance</text></g>
<g id="n-Xor" transform="rotate(87.9)translate(280,2.26)"><text>Xor</text></g>
<g id="n-IScaleMap" class="e" transform="rotate(-89.3)translate(-280,2.26)"><text>IScaleMap</text></g>
<g id="n-LinearScale" class="e" transform="rotate(-87.9)translate(-280,2.26)"><text>LinearScale</text></g>
<g id="n-LogScale" class="e" transform="rotate(-86.5)translate(-280,2.26)"><text>LogScale</text></g>
<g id="n-OrdinalScale" class="e" transform="rotate(-85.1)translate(-280,2.26)"><text>OrdinalScale</text></g>
<g id="n-QuantileScale" class="e" transform="rotate(-83.7)translate(-280,2.26)"><text>QuantileScale</text></g>
<g id="n-QuantitativeScale" class="e" transform="rotate(-82.3)translate(-280,2.26)"><text>QuantitativeScale</text></g>
<g id="n-RootScale" class="e" transform="rotate(-80.89)translate(-280,2.26)"><text>RootScale</text></g>
<g id="n-Scale" class="e" transform="rotate(-79.49)translate(-280,2.26)"><text>Scale</text></g>
<g id="n-ScaleType" class="e" transform="rotate(-78.09)translate(-280,2.26)"><text>ScaleType</text></g>
<g id="n-TimeScale" class="e" transform="rotate(-76.69)translate(-280,2.26)"><text>TimeScale</text></g>
<g id="n-Arrays" class="e" transform="rotate(-73.89)translate(-280,2.26)"><text>Arrays</text></g>
<g id="n-Colors" class="e" transform="rotate(-72.49)translate(-280,2.26)"><text>Colors</text></g>
<g id="n-Dates" class="e" transform="rotate(-71.09)translate(-280,2.26)"><text>Dates</text></g>
<g id="n-Displays" class="e" transform="rotate(-69.69)translate(-280,2.26)"><text>Displays</text></g>
<g id="n-Filter" class="e" transform="rotate(-68.29)translate(-280,2.26)"><text>Filter</text></g>
<g id="n-Geometry" class="e" transform="rotate(-66.89)translate(-280,2.26)"><text>Geometry</text></g>
<g id="n-FibonacciHeap" class="e" transform="rotate(-64.09)translate(-280,2.26)"><text>FibonacciHeap</text></g>
<g id="n-HeapNode" class="e" transform="rotate(-62.68)translate(-280,2.26)"><text>HeapNode</text></g>
<g id="n-IEvaluable" class="e" transform="rotate(-59.88)translate(-280,2.26)"><text>IEvaluable</text></g>
<g id="n-IPredicate" class="e" transform="rotate(-58.48)translate(-280,2.26)"><text>IPredicate</text></g>
<g id="n-IValueProxy" class="e" transform="rotate(-57.08)translate(-280,2.26)"><text>IValueProxy</text></g>
<g id="n-DenseMatrix" class="e" transform="rotate(-54.28)translate(-280,2.26)"><text>DenseMatrix</text></g>
<g id="n-IMatrix" class="e" transform="rotate(-52.88)translate(-280,2.26)"><text>IMatrix</text></g>
<g id="n-SparseMatrix" class="e" transform="rotate(-51.48)translate(-280,2.26)"><text>SparseMatrix</text></g>
<g id="n-Maths" class="e" transform="rotate(-48.68)translate(-280,2.26)"><text>Maths</text></g>
<g id="n-Orientation" class="e" transform="rotate(-47.28)translate(-280,2.26)"><text>Orientation</text></g>
<g id="n-ColorPalette" class="e" transform="rotate(-44.47)translate(-280,2.26)"><text>ColorPalette</text></g>
<g id="n-Palette" class="e" transform="rotate(-43.07)translate(-280,2.26)"><text>Palette</text></g>
<g id="n-ShapePalette" class="e" transform="rotate(-41.67)translate(-280,2.26)"><text>ShapePalette</text></g>
<g id="n-SizePalette" class="e" transform="rotate(-40.27)translate(-280,2.26)"><text>SizePalette</text></g>
<g id="n-Property" class="e" transform="rotate(-37.47)translate(-280,2.26)"><text>Property</text></g>
<g id="n-Shapes" class="e" transform="rotate(-36.07)translate(-280,2.26)"><text>Shapes</text></g>
<g id="n-Sort" class="e" transform="rotate(-34.67)translate(-280,2.26)"><text>Sort</text></g>
<g id="n-Stats" class="e" transform="rotate(-33.27)translate(-280,2.26)"><text>Stats</text></g>
<g id="n-Strings" class="e" transform="rotate(-31.87)translate(-280,2.26)"><text>Strings</text></g>
<g id="n-Axes" class="e" transform="rotate(-29.07)translate(-280,2.26)"><text>Axes</text></g>
<g id="n-Axis" class="e" transform="rotate(-27.67)translate(-280,2.26)"><text>Axis</text></g>
<g id="n-AxisGridLine" class="e" transform="rotate(-26.26)translate(-280,2.26)"><text>AxisGridLine</text></g>
<g id="n-AxisLabel" class="e" transform="rotate(-24.86)translate(-280,2.26)"><text>AxisLabel</text></g>
<g id="n-CartesianAxes" class="e" transform="rotate(-23.46)translate(-280,2.26)"><text>CartesianAxes</text></g>
<g id="n-AnchorControl" class="e" transform="rotate(-20.66)translate(-280,2.26)"><text>AnchorControl</text></g>
<g id="n-ClickControl" class="e" transform="rotate(-19.26)translate(-280,2.26)"><text>ClickControl</text></g>
<g id="n-Control" class="e" transform="rotate(-17.86)translate(-280,2.26)"><text>Control</text></g>
<g id="n-ControlList" class="e" transform="rotate(-16.46)translate(-280,2.26)"><text>ControlList</text></g>
<g id="n-DragControl" class="e" transform="rotate(-15.06)translate(-280,2.26)"><text>DragControl</text></g>
<g id="n-ExpandControl" class="e" transform="rotate(-13.66)translate(-280,2.26)"><text>ExpandControl</text></g>
<g id="n-HoverControl" class="e" transform="rotate(-12.26)translate(-280,2.26)"><text>HoverControl</text></g>
<g id="n-IControl" class="e" transform="rotate(-10.86)translate(-280,2.26)"><text>IControl</text></g>
<g id="n-PanZoomControl" class="e" transform="rotate(-9.46)translate(-280,2.26)"><text>PanZoomControl</text></g>
<g id="n-SelectionControl" class="e" transform="rotate(-8.05)translate(-280,2.26)"><text>SelectionControl</text></g>
<g id="n-TooltipControl" class="e" transform="rotate(-6.65)translate(-280,2.26)"><text>TooltipControl</text></g>
<g id="n-Data" class="e" transform="rotate(-3.85)translate(-280,2.26)"><text>Data</text></g>
<g id="n-DataList" class="e" transform="rotate(-2.45)translate(-280,2.26)"><text>DataList</text></g>
<g id="n-DataSprite" class="e" transform="rotate(-1.05)translate(-280,2.26)"><text>DataSprite</text></g>
<g id="n-EdgeSprite" class="e" transform="rotate(0.35)translate(-280,2.26)"><text>EdgeSprite</text></g>
<g id="n-NodeSprite" class="e" transform="rotate(1.75)translate(-280,2.26)"><text>NodeSprite</text></g>
<g id="n-ArrowType" class="e" transform="rotate(4.55)translate(-280,2.26)"><text>ArrowType</text></g>
<g id="n-EdgeRenderer" class="e" transform="rotate(5.95)translate(-280,2.26)"><text>EdgeRenderer</text></g>
<g id="n-IRenderer" class="e" transform="rotate(7.35)translate(-280,2.26)"><text>IRenderer</text></g>
<g id="n-ShapeRenderer" class="e" transform="rotate(8.75)translate(-280,2.26)"><text>ShapeRenderer</text></g>
<g id="n-ScaleBinding" class="e" transform="rotate(11.56)translate(-280,2.26)"><text>ScaleBinding</text></g>
<g id="n-Tree" class="e" transform="rotate(12.96)translate(-280,2.26)"><text>Tree</text></g>
<g id="n-TreeBuilder" class="e" transform="rotate(14.36)translate(-280,2.26)"><text>TreeBuilder</text></g>
<g id="n-DataEvent" class="e" transform="rotate(17.16)translate(-280,2.26)"><text>DataEvent</text></g>
<g id="n-SelectionEvent" class="e" transform="rotate(18.56)translate(-280,2.26)"><text>SelectionEvent</text></g>
<g id="n-TooltipEvent" class="e" transform="rotate(19.96)translate(-280,2.26)"><text>TooltipEvent</text></g>
<g id="n-VisualizationEvent" class="e" transform="rotate(21.36)translate(-280,2.26)"><text>VisualizationEvent</text></g>
<g id="n-Legend" class="e" transform="rotate(24.16)translate(-280,2.26)"><text>Legend</text></g>
<g id="n-LegendItem" class="e" transform="rotate(25.56)translate(-280,2.26)"><text>LegendItem</text></g>
<g id="n-LegendRange" class="e" transform="rotate(26.96)translate(-280,2.26)"><text>LegendRange</text></g>
<g id="n-BifocalDistortion" class="e" transform="rotate(29.77)translate(-280,2.26)"><text>BifocalDistortion</text></g>
<g id="n-Distortion" class="e" transform="rotate(31.17)translate(-280,2.26)"><text>Distortion</text></g>
<g id="n-FisheyeDistortion" class="e" transform="rotate(32.57)translate(-280,2.26)"><text>FisheyeDistortion</text></g>
<g id="n-ColorEncoder" class="e" transform="rotate(35.37)translate(-280,2.26)"><text>ColorEncoder</text></g>
<g id="n-Encoder" class="e" transform="rotate(36.77)translate(-280,2.26)"><text>Encoder</text></g>
<g id="n-PropertyEncoder" class="e" transform="rotate(38.17)translate(-280,2.26)"><text>PropertyEncoder</text></g>
<g id="n-ShapeEncoder" class="e" transform="rotate(39.57)translate(-280,2.26)"><text>ShapeEncoder</text></g>
<g id="n-SizeEncoder" class="e" transform="rotate(40.97)translate(-280,2.26)"><text>SizeEncoder</text></g>
<g id="n-FisheyeTreeFilter" class="e" transform="rotate(43.77)translate(-280,2.26)"><text>FisheyeTreeFilter</text></g>
<g id="n-GraphDistanceFilter" class="e" transform="rotate(45.18)translate(-280,2.26)"><text>GraphDistanceFilter</text></g>
<g id="n-VisibilityFilter" class="e" transform="rotate(46.58)translate(-280,2.26)"><text>VisibilityFilter</text></g>
<g id="n-IOperator" class="e" transform="rotate(49.38)translate(-280,2.26)"><text>IOperator</text></g>
<g id="n-Labeler" class="e" transform="rotate(52.18)translate(-280,2.26)"><text>Labeler</text></g>
<g id="n-RadialLabeler" class="e" transform="rotate(53.58)translate(-280,2.26)"><text>RadialLabeler</text></g>
<g id="n-StackedAreaLabeler" class="e" transform="rotate(54.98)translate(-280,2.26)"><text>StackedAreaLabeler</text></g>
<g id="n-AxisLayout" class="e" transform="rotate(57.78)translate(-280,2.26)"><text>AxisLayout</text></g>
<g id="n-BundledEdgeRouter" class="e" transform="rotate(59.18)translate(-280,2.26)"><text>BundledEdgeRouter</text></g>
<g id="n-CircleLayout" class="e" transform="rotate(60.58)translate(-280,2.26)"><text>CircleLayout</text></g>
<g id="n-CirclePackingLayout" class="e" transform="rotate(61.98)translate(-280,2.26)"><text>CirclePackingLayout</text></g>
<g id="n-DendrogramLayout" class="e" transform="rotate(63.39)translate(-280,2.26)"><text>DendrogramLayout</text></g>
<g id="n-ForceDirectedLayout" class="e" transform="rotate(64.79)translate(-280,2.26)"><text>ForceDirectedLayout</text></g>
<g id="n-IcicleTreeLayout" class="e" transform="rotate(66.19)translate(-280,2.26)"><text>IcicleTreeLayout</text></g>
<g id="n-IndentedTreeLayout" class="e" transform="rotate(67.59)translate(-280,2.26)"><text>IndentedTreeLayout</text></g>
<g id="n-Layout" class="e" transform="rotate(68.99)translate(-280,2.26)"><text>Layout</text></g>
<g id="n-NodeLinkTreeLayout" class="e" transform="rotate(70.39)translate(-280,2.26)"><text>NodeLinkTreeLayout</text></g>
<g id="n-PieLayout" class="e" transform="rotate(71.79)translate(-280,2.26)"><text>PieLayout</text></g>
<g id="n-RadialTreeLayout" class="e" transform="rotate(73.19)translate(-280,2.26)"><text>RadialTreeLayout</text></g>
<g id="n-RandomLayout" class="e" transform="rotate(74.59)translate(-280,2.26)"><text>RandomLayout</text></g>
<g id="n-StackedAreaLayout" class="e" transform="rotate(75.99)translate(-280,2.26)"><text>StackedAreaLayout</text></g>
<g id="n-TreeMapLayout" class="e" transform="rotate(77.39)translate(-280,2.26)"><text>TreeMapLayout</text></g>
<g id="n-Operator" class="e" transform="rotate(80.19)translate(-280,2.26)"><text>Operator</text></g>
<g id="n-OperatorList" class="e" transform="rotate(81.6)translate(-280,2.26)"><text>OperatorList</text></g>
<g id="n-OperatorSequence" class="e" transform="rotate(83)translate(-280,2.26)"><text>OperatorSequence</text></g>
<g id="n-OperatorSwitch" class="e" transform="rotate(84.4)translate(-280,2.26)"><text>OperatorSwitch</text></g>
<g id="n-SortOperator" class="e" transform="rotate(85.8)translate(-280,2.26)"><text>SortOperator</text></g>
<g id="n-Visualization" class="e" transform="rotate(88.6)translate(-280,2.26)"><text>Visualization</text></g>
</g>
</g>
<g id="legend">
<text x="632" y="676" style="font-size:10.8px;font-weight:bold">Dependencies</text>
<line x1="633" y1="689" x2="643" y2="689" stroke="#d62728" stroke-width="2"/>
<text x="648" y="692" style="font-size:10.4px">depends on</text>
<line x1="633" y1="701" x2="643" y2="701" stroke="#2ca02c" stroke-width="2"/>
<text x="648" y="704" style="font-size:10.4px">imported by</text>
</g>
</svg>
